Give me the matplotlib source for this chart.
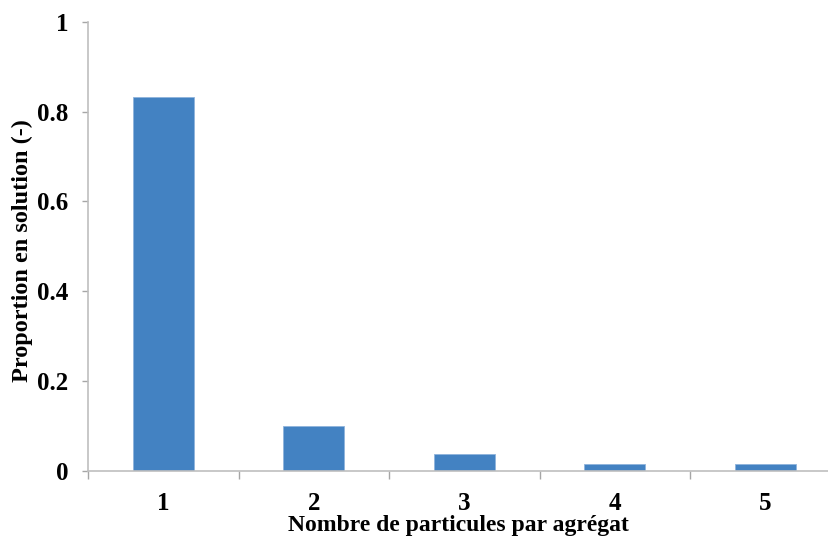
import numpy as np
from matplotlib import pyplot as plt

categories = ["1", "2", "3", "4", "5"]
proportions = [0.833, 0.099, 0.0375, 0.015, 0.015]
y_ticks = [0, 0.2, 0.4, 0.6, 0.8, 1]
y_tick_labels = ["0", "0.2", "0.4", "0.6", "0.8", "1"]

plt.rcParams['font.family'] = ['Liberation Serif', 'DejaVu Serif']
plt.rcParams['font.weight'] = 'bold'

fig = plt.figure(figsize=(8.29, 5.43), dpi=100)
ax = fig.add_axes([88.3 / 829, 72.5 / 543, 752 / 829, 448.5 / 543])

x = np.arange(len(categories))
ax.bar(x, proportions, width=0.405, color='#4382c2', edgecolor='#8fb3dc', linewidth=0.6)

ax.set_xlim(-0.5, len(categories) - 0.5)
ax.set_ylim(0, 1)

ax.set_xticks(x)
ax.set_xticklabels(categories, fontsize=18, fontweight='bold')
ax.set_xticks(np.arange(-0.5, len(categories) + 0.5, 1), minor=True)
ax.tick_params(axis='x', which='major', length=0, pad=15.5)
ax.tick_params(axis='x', which='minor', length=5.5, width=1, color='#a6a6a6', direction='out')

ax.set_yticks(y_ticks)
ax.set_yticklabels(y_tick_labels, fontsize=18, fontweight='bold')
ax.tick_params(axis='y', length=4.5, width=1, color='#a6a6a6', pad=10)

for side in ['top', 'right']:
    ax.spines[side].set_visible(False)
for side in ['left', 'bottom']:
    ax.spines[side].set_color('#bfbfbf')
    ax.spines[side].set_linewidth(1.2)

ax.set_xlabel("Nombre de particules par agrégat", fontsize=17, fontweight='bold')
ax.xaxis.set_label_coords((458 - 88.3) / 752, -0.1)
ax.set_ylabel("Proportion en solution (-)", fontsize=17.5, fontweight='bold')
ax.yaxis.set_label_coords(-0.073, 0.49)

plt.savefig('out.png', dpi=100)
